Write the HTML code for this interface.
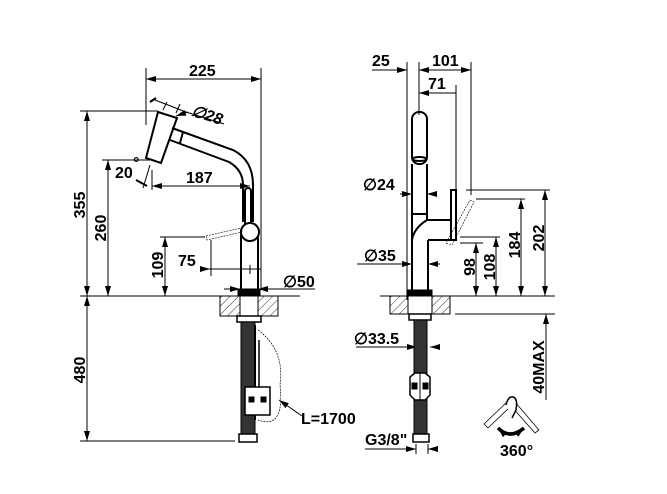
<!DOCTYPE html>
<html><head><meta charset="utf-8"><style>
html,body{margin:0;padding:0;background:#fff;}
svg{display:block;}
text{font-family:"Liberation Sans",Arial,sans-serif;font-weight:bold;font-size:16px;fill:#000;}
</style></head><body>
<svg width="667" height="494" viewBox="0 0 667 494" xmlns="http://www.w3.org/2000/svg">
<defs>
<marker id="a" viewBox="0 0 10 6" refX="10" refY="3" markerWidth="10" markerHeight="6" orient="auto-start-reverse" markerUnits="userSpaceOnUse"><path d="M0,0 L10,3 L0,6 z" fill="#000"/></marker>
<pattern id="h" width="6" height="6" patternUnits="userSpaceOnUse" patternTransform="rotate(45)"><line x1="0" y1="0" x2="0" y2="6" stroke="#000" stroke-width="0.8"/></pattern>
</defs>
<g stroke="#000" stroke-width="1" fill="none">
<line x1="146" y1="68" x2="146" y2="125"/>
<line x1="261" y1="68" x2="261" y2="290"/>
<line x1="146" y1="79" x2="261" y2="79" marker-start="url(#a)" marker-end="url(#a)"/>
<line x1="80" y1="111" x2="158" y2="111"/>
<line x1="87" y1="111" x2="87" y2="296" marker-start="url(#a)" marker-end="url(#a)"/>
<line x1="102" y1="160" x2="150" y2="160"/>
<line x1="108" y1="160" x2="108" y2="296" marker-start="url(#a)" marker-end="url(#a)"/>
<line x1="160" y1="237" x2="205" y2="237"/>
<line x1="165" y1="237" x2="165" y2="296" marker-start="url(#a)" marker-end="url(#a)"/>
<line x1="80" y1="296" x2="300" y2="296"/>
<line x1="87" y1="296" x2="87" y2="441" marker-start="url(#a)" marker-end="url(#a)"/>
<line x1="80" y1="441" x2="235" y2="441"/>
<line x1="152" y1="186" x2="250" y2="186" marker-start="url(#a)" marker-end="url(#a)"/>
<line x1="152" y1="170" x2="152" y2="190"/>
<line x1="143" y1="188" x2="150" y2="165"/>
<line x1="136" y1="180" x2="147" y2="186" stroke-width="2"/>
<line x1="211" y1="240" x2="211" y2="276"/>
<line x1="200" y1="269" x2="261" y2="269"/>
<path d="M200,269 L210,269" marker-end="url(#a)"/>
<line x1="250" y1="265" x2="250" y2="274"/>
<line x1="224" y1="289" x2="315" y2="289"/>
<path d="M226,289 L240,289" marker-end="url(#a)"/>
<path d="M272,289 L258,289" marker-end="url(#a)"/>
<line x1="156" y1="98" x2="150" y2="102" stroke-width="2"/>
<line x1="155" y1="100" x2="186" y2="112"/>
<line x1="167" y1="102" x2="163" y2="110"/>
<line x1="180" y1="104" x2="176" y2="113"/>
<line x1="186" y1="112" x2="224" y2="124"/>
<path d="M188,112 L176,116" marker-end="url(#a)"/>
<g stroke-width="2">
<polygon points="158,112 177,118 161,163 146,158" fill="#fff"/>
<path d="M172,128 L233,150 Q253,160 253,185 L253,222"/>
<path d="M170,140 L229,162 Q243,170 243,185 L243,222"/>
<line x1="183" y1="132" x2="180" y2="143"/>
<rect x="245" y="188" width="6" height="40" rx="3"/>
<line x1="241" y1="230" x2="241" y2="290"/>
<line x1="258" y1="230" x2="258" y2="290"/>
<circle cx="250" cy="232" r="9" fill="#fff"/>
</g>
<path d="M206,236 L241,228 L242,232 L207,240 z" stroke-width="0.6" stroke-dasharray="2,1"/>
<rect x="238" y="290" width="22" height="6" fill="#000"/>
<rect x="220" y="296" width="20" height="20" fill="url(#h)"/>
<rect x="258" y="296" width="20" height="20" fill="url(#h)"/>
<rect x="240" y="296" width="18" height="20"/>
<rect x="237" y="316" width="24" height="6" stroke-width="1.5"/>
<rect x="241" y="322" width="14" height="112" fill="#333"/>
<line x1="255" y1="325" x2="255" y2="420" stroke-width="2"/>
<line x1="259" y1="340" x2="259" y2="410" stroke-width="1.5"/>
<rect x="245" y="387" width="25" height="28" fill="#fff" stroke-width="1.5"/>
<rect x="249" y="397" width="5" height="5" fill="#000"/><rect x="261" y="397" width="5" height="5" fill="#000"/>
<rect x="239" y="434" width="18" height="8" fill="#fff" stroke-width="1.5"/>
<path d="M258,330 Q285,350 280,385 Q285,430 258,420" stroke-width="0.7" stroke-dasharray="2,1"/>
<path d="M302,416 L279,400" marker-end="url(#a)"/>
<line x1="407" y1="62" x2="407" y2="300"/>
<line x1="419" y1="62" x2="419" y2="115"/>
<line x1="471" y1="62" x2="471" y2="195"/>
<line x1="456" y1="85" x2="456" y2="195"/>
<line x1="372" y1="70" x2="407" y2="70" marker-end="url(#a)"/>
<line x1="419" y1="70" x2="471" y2="70" marker-start="url(#a)" marker-end="url(#a)"/>
<line x1="419" y1="93" x2="456" y2="93" marker-start="url(#a)"/>
<line x1="466" y1="190" x2="550" y2="190"/>
<line x1="476" y1="199" x2="525" y2="199"/>
<line x1="460" y1="237" x2="500" y2="237"/>
<line x1="460" y1="243" x2="483" y2="243"/>
<line x1="476" y1="243" x2="476" y2="296" marker-start="url(#a)" marker-end="url(#a)"/>
<line x1="496" y1="237" x2="496" y2="296" marker-start="url(#a)" marker-end="url(#a)"/>
<line x1="521" y1="199" x2="521" y2="296" marker-start="url(#a)" marker-end="url(#a)"/>
<line x1="545" y1="190" x2="545" y2="296" marker-start="url(#a)" marker-end="url(#a)"/>
<line x1="380" y1="296" x2="555" y2="296"/>
<line x1="455" y1="314" x2="555" y2="314"/>
<line x1="546" y1="314" x2="546" y2="400" marker-start="url(#a)"/>
<path d="M400,194 L412,194" marker-end="url(#a)"/>
<path d="M437,194 L427,194" marker-end="url(#a)"/>
<line x1="357" y1="264" x2="412" y2="264" marker-end="url(#a)"/>
<path d="M440,264 L428,264" marker-end="url(#a)"/>
<line x1="356" y1="347" x2="417" y2="347" marker-end="url(#a)"/>
<path d="M440,347 L430,347" marker-end="url(#a)"/>
<line x1="365" y1="449" x2="416" y2="449" marker-end="url(#a)"/>
<path d="M437,449 L428,449" marker-end="url(#a)"/>
<line x1="416" y1="444" x2="416" y2="454"/><line x1="428" y1="444" x2="428" y2="454"/>
<g stroke-width="2">
<rect x="412" y="112" width="15" height="52" rx="7"/>
<ellipse cx="419.5" cy="159" rx="7" ry="2"/>
<line x1="412" y1="164" x2="412" y2="296"/>
<line x1="427" y1="164" x2="427" y2="220"/>
<line x1="412" y1="214" x2="427" y2="214"/>
<path d="M427,220 Q414,228 412,240"/>
<line x1="427" y1="220" x2="452" y2="220"/>
<line x1="428" y1="240" x2="452" y2="240"/>
<line x1="428" y1="240" x2="428" y2="292"/>
<rect x="451" y="190" width="5" height="50"/>
</g>
<path d="M470,200 L474,202 L452,245 L446,243 z" stroke-width="0.6" stroke-dasharray="2,1"/>
<rect x="408" y="290" width="24" height="6" fill="#000"/>
<rect x="390" y="296" width="18" height="18" fill="url(#h)"/>
<rect x="432" y="296" width="18" height="18" fill="url(#h)"/>
<rect x="408" y="296" width="24" height="18"/>
<rect x="409" y="314" width="22" height="6" stroke-width="1.5"/>
<rect x="414" y="320" width="13" height="114" fill="#333"/>
<path d="M410,377 L415,373 L425,373 L430,377 L430,395 L425,400 L415,400 L410,395 z" fill="#fff" stroke-width="1.5"/>
<line x1="420" y1="373" x2="420" y2="400"/>
<rect x="412" y="383" width="5" height="6" fill="#000"/><rect x="423" y="383" width="5" height="6" fill="#000"/>
<rect x="413" y="434" width="16" height="8" fill="#fff" stroke-width="1.5"/>
<path d="M484,424 L507,402 L511,406 L488,428 z" stroke-width="0.8"/>
<path d="M515,402 L539,430 L535,433 L511,406 z" stroke-width="0.8"/>
<path d="M506,405 Q508,396 513,397 Q518,398 516,410 L512,418" fill="#fff" stroke-width="1.5"/>
<path d="M498,428 Q510,440 524,428" stroke-width="3.5" marker-start="url(#a)" marker-end="url(#a)"/>
</g>
<text x="189" y="76">225</text>
<text x="192" y="118" transform="rotate(18 200 112)" font-style="italic">∅28</text>
<text x="115" y="178">20</text><text x="133" y="168" font-size="10" font-weight="normal">°</text>
<text x="186" y="183">187</text>
<text x="178" y="266">75</text>
<text x="283" y="287">∅50</text>
<text x="301" y="424">L=1700</text>
<text transform="translate(85 205) rotate(-90)" text-anchor="middle">355</text>
<text transform="translate(106 228) rotate(-90)" text-anchor="middle">260</text>
<text transform="translate(163 265) rotate(-90)" text-anchor="middle">109</text>
<text transform="translate(85 370) rotate(-90)" text-anchor="middle">480</text>
<text x="372" y="66">25</text>
<text x="432" y="66">101</text>
<text x="428" y="89">71</text>
<text x="363" y="190">∅24</text>
<text x="364" y="261">∅35</text>
<text x="354" y="344">∅33.5</text>
<text x="365" y="445">G3/8"</text>
<text x="500" y="456" font-size="13">360°</text>
<text transform="translate(475 267) rotate(-90)" text-anchor="middle">98</text>
<text transform="translate(495 267) rotate(-90)" text-anchor="middle">108</text>
<text transform="translate(520 245) rotate(-90)" text-anchor="middle">184</text>
<text transform="translate(544 238) rotate(-90)" text-anchor="middle">202</text>
<text transform="translate(544 367) rotate(-90)" text-anchor="middle">40MAX</text>
</svg>
</body></html>
